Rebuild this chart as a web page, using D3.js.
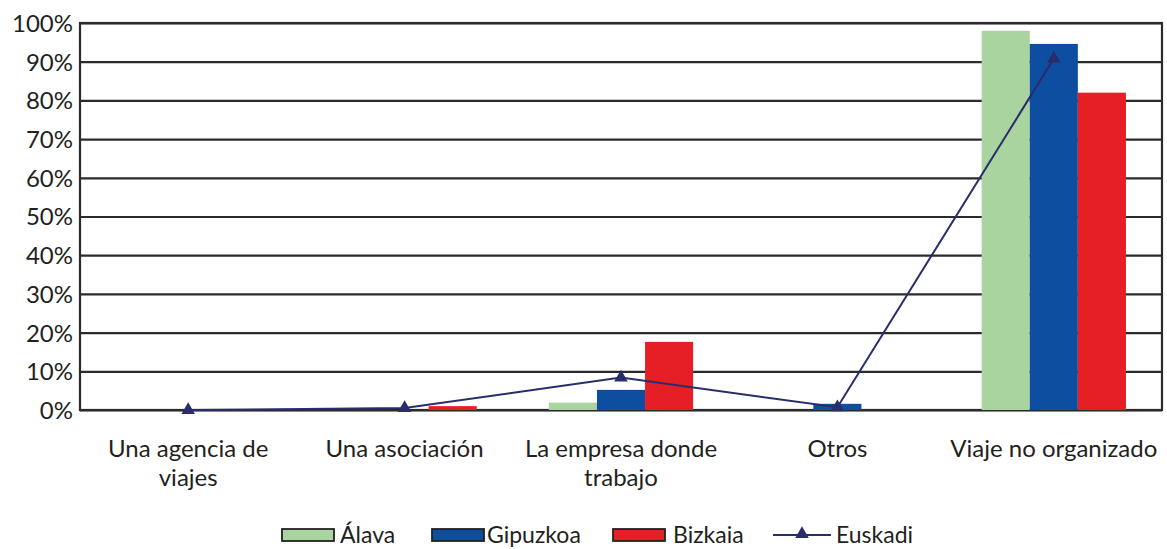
<!DOCTYPE html>
<html><head><meta charset="utf-8">
<script src="https://cdn.jsdelivr.net/npm/d3@7"></script>
<style>
body{margin:0;background:#fff;}
text{font-family:Lato,"Open Sans",sans-serif;fill:#231f20;}
</style></head>
<body><svg id="c" width="1167" height="549"></svg>
<script>
const categories = [["Una agencia de","viajes"],["Una asociación"],["La empresa donde","trabajo"],["Otros"],["Viaje no organizado"]];
const catKeys = ["agencia","asociacion","empresa","otros","viaje"];
const alava    = [0, 0, 1.9, 0, 98];
const gipuzkoa = [0, 0, 5.2, 1.6, 94.6];
const bizkaia  = [0, 1.0, 17.6, 0, 82];
const euskadi  = [0, 0.5, 8.4, 0.7, 90.8];
const seriesNames = ["Álava","Gipuzkoa","Bizkaia"];
const seriesColors = ["#a9d4a0","#0e4ea0","#e61e25"];
const yTicks = [0,10,20,30,40,50,60,70,80,90,100];
const lineColor = "#2a2d6b";

const svg = d3.select("#c");
const L=80, R=1162, T=23, B=410;
const x0 = d3.scaleBand().domain(catKeys).range([L,R]).paddingInner(1/3).paddingOuter(1/6);
const x1 = d3.scaleBand().domain(seriesNames).range([0,x0.bandwidth()]);
const y = d3.scaleLinear().domain([0,100]).range([B,T]);

// gridlines
const yAxis = d3.axisLeft(y).tickValues(yTicks).tickFormat(d=>d+"%").tickSize(-(R-L)).tickPadding(8);
const ga = svg.append("g").attr("transform",`translate(${L},0)`).call(yAxis);
ga.select(".domain").remove();
ga.selectAll(".tick line").attr("stroke","#2b2b2b").attr("stroke-width",2.2);
ga.selectAll(".tick text").attr("font-size",24).attr("dy","0.35em").attr("x",-7);
// frame
svg.append("rect").attr("x",L).attr("y",T).attr("width",R-L).attr("height",B-T)
  .attr("fill","none").attr("stroke","#2b2b2b").attr("stroke-width",2.2);

const data = [alava,gipuzkoa,bizkaia];
data.forEach((arr,si)=>{
  svg.append("g").selectAll("rect").data(arr).join("rect")
    .attr("x",(d,i)=>x0(catKeys[i])+x1(seriesNames[si]))
    .attr("width",x1.bandwidth())
    .attr("y",d=>y(d))
    .attr("height",d=>B-y(d))
    .attr("fill",seriesColors[si]);
});

const cx = i=>x0(catKeys[i])+x0.bandwidth()/2;
svg.append("path").datum(euskadi)
  .attr("d",d3.line().x((d,i)=>cx(i)).y(d=>y(d)))
  .attr("fill","none").attr("stroke",lineColor).attr("stroke-width",2);
const tri = d3.symbol().type(d3.symbolTriangle).size(80);
svg.append("g").selectAll("path").data(euskadi).join("path")
  .attr("d",tri).attr("transform",(d,i)=>`translate(${cx(i)},${y(d)})`).attr("fill",lineColor);

// category labels
categories.forEach((lines,i)=>{
  const t = svg.append("text").attr("x",cx(i)).attr("y",457).attr("text-anchor","middle").attr("font-size",24);
  lines.forEach((ln,j)=>t.append("tspan").attr("x",cx(i)).attr("dy",j?29:0).text(ln));
});

// legend
const leg = [
  {name:"Álava",type:"bar",color:seriesColors[0],x:282,tx:340},
  {name:"Gipuzkoa",type:"bar",color:seriesColors[1],x:432,tx:487},
  {name:"Bizkaia",type:"bar",color:seriesColors[2],x:613,tx:673},
  {name:"Euskadi",type:"line",color:lineColor,x:773,tx:836}
];
const ly=535;
leg.forEach(l=>{
  if(l.type==="bar"){
    svg.append("rect").attr("x",l.x).attr("y",ly-6).attr("width",52).attr("height",12)
      .attr("fill",l.color).attr("stroke","#222").attr("stroke-width",1.8);
  } else {
    svg.append("line").attr("x1",l.x).attr("x2",l.x+58).attr("y1",ly).attr("y2",ly).attr("stroke",l.color).attr("stroke-width",2);
    svg.append("path").attr("d",tri).attr("transform",`translate(${l.x+29},${ly-1})`).attr("fill",l.color);
  }
  svg.append("text").attr("x",l.tx).attr("y",ly+8).attr("font-size",23).text(l.name);
});
</script></body></html>
